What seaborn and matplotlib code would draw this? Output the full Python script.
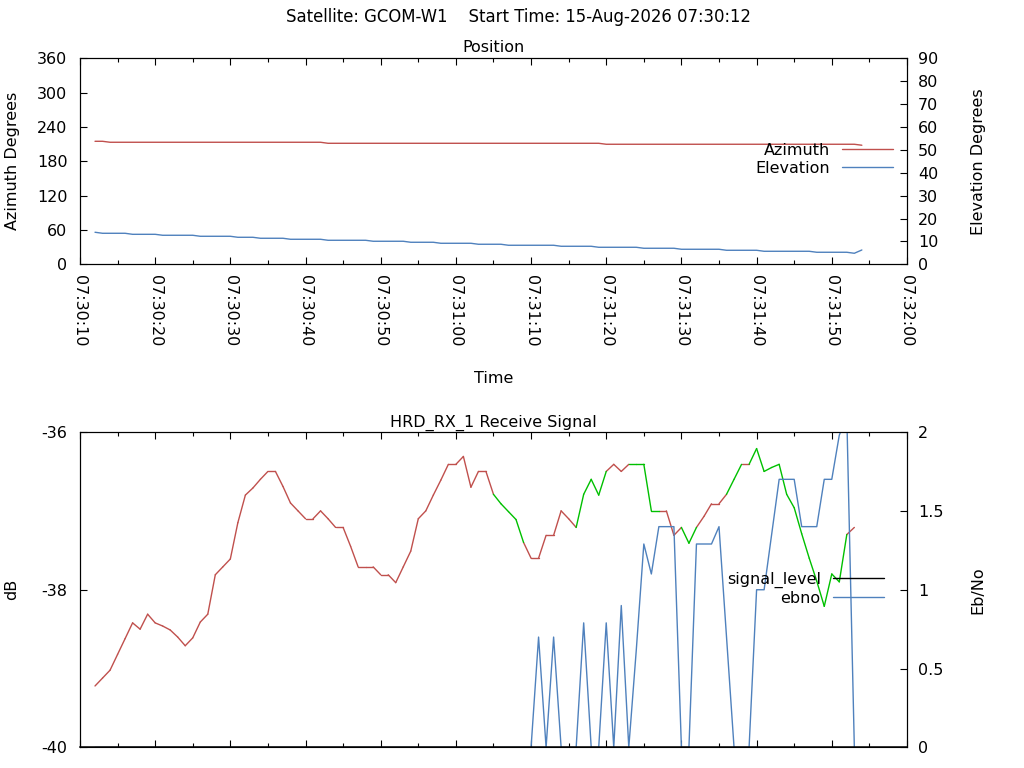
import pandas as pd
import matplotlib
matplotlib.use("Agg")
import matplotlib.pyplot as plt
import matplotlib.dates as mdates
from matplotlib.lines import Line2D
import seaborn as sns

# --- data (one sample per second from 07:30:12) ---
azimuth = [
    215.1, 215.1, 213.4, 213.4, 213.4, 213.4, 213.4, 213.4, 213.4, 213.4,
    213.4, 213.4, 213.4, 213.4, 213.4, 213.4, 213.4, 213.4, 213.4, 213.4,
    213.4, 213.4, 213.4, 213.4, 213.4, 213.4, 213.4, 213.4, 213.4, 213.4,
    213.4, 211.6, 211.6, 211.6, 211.6, 211.6, 211.6, 211.6, 211.6, 211.6,
    211.6, 211.6, 211.6, 211.6, 211.6, 211.6, 211.6, 211.6, 211.6, 211.6,
    211.6, 211.6, 211.6, 211.6, 211.6, 211.6, 211.6, 211.6, 211.6, 211.6,
    211.6, 211.6, 211.6, 211.6, 211.6, 211.6, 211.6, 211.6, 209.9, 209.9,
    209.9, 209.9, 209.9, 209.9, 209.9, 209.9, 209.9, 209.9, 209.9, 209.9,
    209.9, 209.9, 209.9, 209.9, 209.9, 209.9, 209.9, 209.9, 209.9, 209.9,
    209.9, 209.9, 209.9, 209.9, 209.9, 209.9, 209.9, 209.9, 209.9, 209.9,
    209.9, 209.9, 208.2,
]
elevation = [
    14.0, 13.55, 13.55, 13.55, 13.55, 13.1, 13.1, 13.1, 13.1, 12.68,
    12.68, 12.68, 12.68, 12.68, 12.24, 12.24, 12.24, 12.24, 12.24, 11.8,
    11.8, 11.8, 11.37, 11.37, 11.37, 11.37, 10.93, 10.93, 10.93, 10.93,
    10.93, 10.49, 10.49, 10.49, 10.49, 10.49, 10.49, 10.06, 10.06, 10.06,
    10.06, 10.06, 9.62, 9.62, 9.62, 9.62, 9.18, 9.18, 9.18, 9.18,
    9.18, 8.75, 8.75, 8.75, 8.75, 8.31, 8.31, 8.31, 8.31, 8.31,
    8.31, 8.31, 7.87, 7.87, 7.87, 7.87, 7.87, 7.43, 7.43, 7.43,
    7.43, 7.43, 7.43, 7.0, 7.0, 7.0, 7.0, 7.0, 6.56, 6.56,
    6.56, 6.56, 6.56, 6.56, 6.12, 6.12, 6.12, 6.12, 6.12, 5.68,
    5.68, 5.68, 5.68, 5.68, 5.68, 5.68, 5.25, 5.25, 5.25, 5.25,
    5.25, 4.81, 6.25,
]
signal_level = [
    -39.22, -39.12, -39.02, -38.82, -38.62, -38.42, -38.50, -38.31, -38.42, -38.46,
    -38.51, -38.60, -38.71, -38.61, -38.41, -38.31, -37.81, -37.71, -37.61, -37.15,
    -36.80, -36.71, -36.60, -36.50, -36.50, -36.69, -36.90, -37.00, -37.10, -37.10,
    -37.00, -37.10, -37.21, -37.21, -37.45, -37.71, -37.71, -37.71, -37.81, -37.81,
    -37.91, -37.71, -37.51, -37.10, -37.00, -36.80, -36.61, -36.41, -36.41, -36.31,
    -36.70, -36.50, -36.50, -36.79, -36.91, -37.01, -37.11, -37.40, -37.60, -37.60,
    -37.31, -37.31, -37.00, -37.10, -37.21, -36.79, -36.60, -36.80, -36.50, -36.41,
    -36.50, -36.41, -36.41, -36.41, -37.00, -37.00, -37.00, -37.31, -37.21, -37.41,
    -37.21, -37.07, -36.91, -36.91, -36.79, -36.60, -36.41, -36.41, -36.21, -36.50,
    -36.45, -36.41, -36.79, -36.96, -37.29, -37.60, -37.89, -38.21, -37.80, -37.90,
    -37.30, -37.21,
]
# 1 = receiver locked (segment ending at this sample drawn green)
lock = [
    0, 0, 0, 0, 0, 0, 0, 0, 0, 0,
    0, 0, 0, 0, 0, 0, 0, 0, 0, 0,
    0, 0, 0, 0, 0, 0, 0, 0, 0, 0,
    0, 0, 0, 0, 0, 0, 0, 0, 0, 0,
    0, 0, 0, 0, 0, 0, 0, 0, 0, 0,
    0, 0, 0, 0, 1, 1, 1, 1, 0, 0,
    0, 0, 0, 0, 0, 1, 1, 1, 1, 0,
    0, 0, 1, 1, 1, 1, 0, 0, 0, 1,
    1, 0, 0, 0, 0, 1, 1, 0, 1, 1,
    1, 1, 1, 1, 1, 1, 1, 1, 1, 1,
    1, 0,
]
ebno = [
    0, 0, 0, 0, 0, 0, 0, 0, 0, 0,
    0, 0, 0, 0, 0, 0, 0, 0, 0, 0,
    0, 0, 0, 0, 0, 0, 0, 0, 0, 0,
    0, 0, 0, 0, 0, 0, 0, 0, 0, 0,
    0, 0, 0, 0, 0, 0, 0, 0, 0, 0,
    0, 0, 0, 0, 0, 0, 0, 0, 0, 0.70,
    0, 0.70, 0, 0, 0, 0.79, 0, 0, 0.79, 0,
    0.90, 0, 0.62, 1.29, 1.10, 1.40, 1.40, 1.40, 0, 0,
    1.29, 1.29, 1.29, 1.40, 0.70, 0, 0, 0, 1.00, 1.00,
    1.35, 1.70, 1.70, 1.70, 1.40, 1.40, 1.40, 1.70, 1.70, 1.98,
    2.10, 0,
]

start = "2026-08-15 07:30:12"
pos_time = pd.date_range(start, periods=len(azimuth), freq="s")
sig_time = pd.date_range(start, periods=len(signal_level), freq="s")

RED = "#c0504d"
BLUE = "#4f81bd"
GREEN = "#00c000"

sns.set_style("ticks", {
    "axes.edgecolor": "black", "xtick.color": "black", "ytick.color": "black",
    "xtick.direction": "in", "ytick.direction": "in",
    "text.color": "black", "axes.labelcolor": "black",
})
plt.rcParams['font.family'] = ['DejaVu Sans']
plt.rcParams['font.size'] = 11.5
plt.rcParams['axes.unicode_minus'] = False
plt.rcParams['axes.linewidth'] = 0.8

fig = plt.figure(figsize=(10.24, 7.68), dpi=100)
ax1 = fig.add_axes([0.0781, 0.6559, 0.8076, 0.268])
ax1b = ax1.twinx()
ax2 = fig.add_axes([0.0781, 0.0267, 0.8076, 0.4108])
ax2b = ax2.twinx()

# --- position ---
sns.lineplot(x=pos_time, y=azimuth, ax=ax1, color=RED, lw=1, estimator=None)
sns.lineplot(x=pos_time, y=elevation, ax=ax1b, color=BLUE, lw=1, estimator=None)
ax1.set_ylim(0, 360)
ax1.set_yticks(range(0, 361, 60))
ax1b.set_ylim(0, 90)
ax1b.set_yticks(range(0, 91, 10))
ax1.set_title("Position", fontsize=11.5, pad=5)
ax1.set_xlabel("Time")
ax1.set_ylabel("Azimuth Degrees")
ax1b.set_ylabel("Elevation Degrees")

# --- receive signal, one segment per sample pair coloured by lock state ---
segs = []
for i in range(1, len(signal_level)):
    for j in (i - 1, i):
        segs.append({"seg": i, "time": sig_time[j], "dB": signal_level[j], "state": lock[i]})
segs = pd.DataFrame(segs)
sns.lineplot(data=segs, x="time", y="dB", units="seg", hue="state", estimator=None,
             palette={0: RED, 1: GREEN}, lw=1, legend=False, ax=ax2)
sns.lineplot(x=sig_time, y=ebno, ax=ax2b, color=BLUE, lw=1.0, estimator=None)
ax2.set_ylim(-40, -36)
ax2.set_yticks([-40, -38, -36])
ax2b.set_ylim(0, 2)
ax2b.set_yticks([0, 0.5, 1, 1.5, 2])
ax2b.set_yticklabels(["0", "0.5", "1", "1.5", "2"])
ax2.set_title("HRD_RX_1 Receive Signal", fontsize=11.5, pad=4)
ax2.set_xlabel("")
ax2.set_ylabel("dB")
ax2b.set_ylabel("Eb/No")
# keep the border above the ebno trace that sits on zero
for sp in ax2b.spines.values():
    sp.set_zorder(5)
ax2b.spines["bottom"].set_linewidth(1.1)

t0 = pd.Timestamp("2026-08-15 07:30:10")
t1 = pd.Timestamp("2026-08-15 07:32:00")
for ax in (ax1, ax2):
    ax.set_xlim(t0, t1)
    ax.xaxis.set_major_locator(mdates.SecondLocator(bysecond=range(0, 60, 10)))
    ax.xaxis.set_minor_locator(mdates.SecondLocator(bysecond=range(5, 60, 10)))
    ax.xaxis.set_major_formatter(mdates.DateFormatter("%H:%M:%S"))
    ax.tick_params(axis="x", which="both", top=True, bottom=True)
    ax.tick_params(axis="y", right=False, pad=9)
    ax.tick_params(which="major", length=5, width=0.8)
    ax.tick_params(which="minor", length=3, width=0.8)
for ax in (ax1b, ax2b):
    ax.tick_params(axis="y", length=5, width=0.8, pad=8)

ax1.tick_params(axis="x", labelrotation=-90, pad=8)
ax2.tick_params(axis="x", labelbottom=False)

ax1.yaxis.set_label_coords(-0.073, 0.5)
ax1b.yaxis.set_label_coords(1.077, 0.5)
ax2.yaxis.set_label_coords(-0.073, 0.5)
ax2b.yaxis.set_label_coords(1.077, 0.5)
ax1.xaxis.set_label_coords(0.5, -0.52)

leg_kw = dict(loc="upper right", frameon=False, markerfirst=False, borderpad=0,
              borderaxespad=0, handlelength=3.2, handletextpad=0.75, labelspacing=0.2)
ax1b.legend([Line2D([], [], color=RED, lw=1), Line2D([], [], color=BLUE, lw=1)],
            ["Azimuth", "Elevation"], bbox_to_anchor=(0.983, 0.59), **leg_kw)
ax2b.legend([Line2D([], [], color="black", lw=1), Line2D([], [], color=BLUE, lw=1)],
            ["signal_level", "ebno"], bbox_to_anchor=(0.972, 0.558), **leg_kw)

fig.text(0.506, 0.978, "Satellite: GCOM-W1    Start Time: 15-Aug-2026 07:30:12",
         ha="center", va="center", fontsize=11.9)

fig.savefig("out.png", dpi=100)
